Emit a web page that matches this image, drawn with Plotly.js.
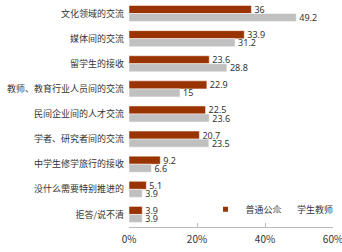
<!DOCTYPE html>
<html><head><meta charset="utf-8">
<script src="https://cdn.plot.ly/plotly-3.0.1.min.js"></script>
<style>html,body{margin:0;padding:0;background:#fff}#c{width:342px;height:252px}</style>
</head><body><div id="c"></div>
<script>
const categories = ["文化领域的交流","媒体间的交流","留学生的接收","教师、教育行业人员间的交流","民间企业间的人才交流","学者、研究者间的交流","中学生修学旅行的接收","没什么需要特别推进的","拒答/说不清"];
const publicVals = [36,33.9,23.6,22.9,22.5,20.7,9.2,5.1,3.9];
const teacherVals = [49.2,31.2,28.8,15,23.6,23.5,6.6,3.9,3.9];
const seriesNames = ["普通公众","学生教师"];
const seriesColors = ["#993300","#c0c0c0"];
const tickVals = [0,20,40,60];
const tickText = ["0%","20%","40%","60%"];

const font = "Noto Sans CJK SC, Noto Sans, sans-serif";
const barTrace = (i, vals) => ({
  type:'bar', orientation:'h', name:seriesNames[i], y:categories, x:vals,
  marker:{color:seriesColors[i], line:{color:'#ffffff', width:0.5}},
  text:vals.map(String), textposition:'outside', cliponaxis:false, constraintext:'none',
  textfont:{size:9, color:'#333', family:"Noto Sans, sans-serif"}, showlegend:false, legendgroup:'s'+i
});
const legendTrace = (i, lg) => ({
  type:'scatter', mode:'markers', name:seriesNames[i], x:[null], y:[null], legend:lg,
  marker:{symbol:'square', size:5, color:seriesColors[i]}, legendgroup:'s'+i, showlegend:true
});
const traces = [barTrace(0, publicVals), barTrace(1, teacherVals), legendTrace(0,'legend'), legendTrace(1,'legend2')];
const legendBase = {orientation:'v', y:0.078, xanchor:'left', yanchor:'middle',
  font:{size:9, color:'#333'}, itemwidth:30, bgcolor:'rgba(0,0,0,0)', itemclick:false};
const layout = {
  width:342, height:252,
  margin:{l:129, r:9, t:1, b:25, autoexpand:false},
  paper_bgcolor:'#fff', plot_bgcolor:'#fff',
  font:{family:font, size:9, color:'#333'},
  barmode:'group', bargap:0.36, bargroupgap:0,
  showlegend:true,
  legend:Object.assign({}, legendBase, {x:0.375}),
  legend2:Object.assign({}, legendBase, {x:0.628}),
  xaxis:{range:[0,60], tickvals:tickVals, ticktext:tickText, showgrid:false, zeroline:false,
         showline:true, linecolor:'#bbb', linewidth:1, ticks:'inside', ticklen:4, tickcolor:'#bbb',
         tickfont:{size:10, color:'#333'}, ticklabelstandoff:3, ticklabeloverflow:'allow', fixedrange:true},
  yaxis:{autorange:'reversed', showgrid:false, zeroline:false, showline:false, ticks:'',
         tickfont:{size:9, color:'#333'}, ticklabelstandoff:4, fixedrange:true}
};
Plotly.newPlot('c', traces, layout, {displayModeBar:false, staticPlot:true});
</script></body></html>
